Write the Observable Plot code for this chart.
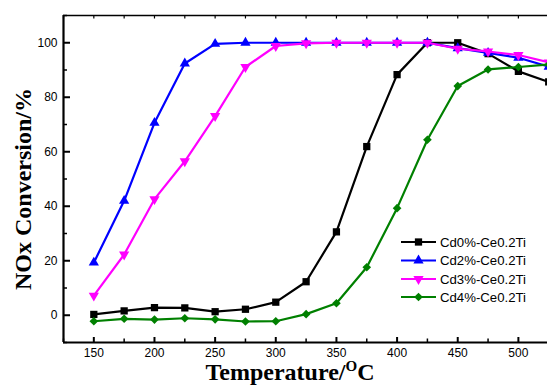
<!DOCTYPE html>
<html><head><meta charset="utf-8">
<script src="https://cdn.jsdelivr.net/npm/d3@7"></script>
<script src="https://cdn.jsdelivr.net/npm/@observablehq/plot@0.6"></script>
<style>body{margin:0;background:#fff} svg{display:block}</style>
</head><body><div id="chart"></div>
<script>
// ---- data ----
const temperatures = [150,175,200,225,250,275,300,325,350,375,400,425,450,475,500,525];
const seriesNames = ["Cd0%-Ce0.2Ti","Cd2%-Ce0.2Ti","Cd3%-Ce0.2Ti","Cd4%-Ce0.2Ti"];
const cd0 = [0.3,1.6,2.8,2.7,1.3,2.2,4.8,12.3,30.6,61.9,88.3,100,100,96,89.5,85.6];
const cd2 = [19.3,42,70.6,92.4,99.6,100,100,100,100,100,100,100,98,96.3,94.5,91.2];
const cd3 = [7.2,22.3,42.6,56.5,73.1,91.1,98.8,99.8,100,100,100,100,97.8,96.8,95.5,92.8];
const cd4 = [-2.2,-1.3,-1.6,-1.1,-1.5,-2.3,-2.2,0.4,4.4,17.6,39.3,64.4,84.1,90.2,91.1,92];
const xMajorTicks = [150,200,250,300,350,400,450,500];
const xMinorTicks = [125,175,225,275,325,375,425,475,525];
const yMajorTicks = [0,20,40,60,80,100];
const yMinorTicks = [-10,10,30,50,70,90,110];
const xDomain = [125, 524];
const yDomain = [-10, 110];
const xTitle = "Temperature/";
const xTitleSup = "O";
const xTitleEnd = "C";
const yTitle = "NOx Conversion/%";

// ---- styles ----
const colors = ["#000000","#0000ff","#ff00ff","#008000"];
const triangleDown = {
  draw(context, size) {
    const s3 = Math.sqrt(3);
    const y = -Math.sqrt(size / (s3 * 3));
    context.moveTo(0, -y * 2);
    context.lineTo(-s3 * y, y);
    context.lineTo(s3 * y, y);
    context.closePath();
  }
};
const symbols = [d3.symbolSquare, d3.symbolTriangle, triangleDown, d3.symbolDiamond2];
const radii = [4.1, 3.8, 3.8, 3.9];

const allSeries = [cd0, cd2, cd3, cd4].map((vals, i) =>
  vals.map((v, j) => ({series: seriesNames[i], t: temperatures[j], v})));

const marks = [];
allSeries.forEach((rows, i) => {
  marks.push(Plot.line(rows, {x: "t", y: "v", stroke: colors[i], strokeWidth: 2.2}));
  marks.push(Plot.dot(rows, {x: "t", y: "v", symbol: symbols[i], r: radii[i], fill: colors[i], stroke: "none"}));
});

const plot = Plot.plot({
  width: 547, height: 385,
  marginLeft: 63, marginRight: 0, marginTop: 15, marginBottom: 43,
  style: {fontFamily: "'Liberation Sans', Arial, sans-serif", fontSize: "12px", color: "#000", background: "#fff"},
  x: {domain: xDomain},
  y: {domain: yDomain},
  marks: [
    Plot.axisX({ticks: xMajorTicks, tickSize: -5, tickPadding: 11, strokeWidth: 2, label: null, tickFormat: d => String(d)}),
    Plot.axisX({ticks: xMinorTicks, tickSize: -3.5, strokeWidth: 1.5, label: null, tickFormat: () => ""}),
    Plot.axisX({anchor: "top", ticks: xMajorTicks.concat(xMinorTicks), tickSize: -2.5, strokeWidth: 1.2, label: null, tickFormat: () => ""}),
    Plot.axisY({ticks: yMajorTicks, tickSize: -7, tickPadding: 13, strokeWidth: 2, label: null, tickFormat: d => String(d)}),
    Plot.axisY({ticks: yMinorTicks, tickSize: -4, strokeWidth: 1.5, label: null, tickFormat: () => ""}),
    Plot.ruleX([xDomain[1]], {stroke: "#9a9a9a", strokeWidth: 1}),
    Plot.ruleY([yDomain[1]], {stroke: "#000", strokeWidth: 1.6}),
    Plot.ruleX([xDomain[0]], {stroke: "#000", strokeWidth: 2.2}),
    Plot.ruleY([yDomain[0]], {stroke: "#000", strokeWidth: 2.2}),
    ...marks
  ]
});

const svg = d3.select(plot);
// axis titles
const xt = svg.append("text")
  .attr("x", 290).attr("y", 380).attr("text-anchor", "middle")
  .attr("font-family", "'Liberation Serif', 'Times New Roman', serif")
  .attr("font-weight", "bold").attr("font-size", 24).attr("fill", "#000");
xt.append("tspan").text(xTitle);
xt.append("tspan").attr("dy", -9).attr("font-size", 15).text(xTitleSup);
xt.append("tspan").attr("dy", 9).text(xTitleEnd);

svg.append("text")
  .attr("transform", "translate(31,189) rotate(-90)")
  .attr("text-anchor", "middle")
  .attr("font-family", "'Liberation Serif', 'Times New Roman', serif")
  .attr("font-weight", "bold").attr("font-size", 24).attr("fill", "#000")
  .text(yTitle);

// legend
const legendRowsY = [242, 260.5, 279, 297];
const lg = svg.append("g").attr("font-family", "'Liberation Sans', Arial, sans-serif")
  .attr("font-size", 13.2).attr("text-anchor", "start");
seriesNames.forEach((name, i) => {
  const y = legendRowsY[i];
  lg.append("line").attr("x1", 401).attr("x2", 436).attr("y1", y).attr("y2", y)
    .attr("stroke", colors[i]).attr("stroke-width", 2.2);
  lg.append("path").attr("transform", `translate(418.5,${y})`)
    .attr("d", d3.symbol(symbols[i], Math.PI * radii[i] * radii[i])())
    .attr("fill", colors[i]);
  lg.append("text").attr("x", 440).attr("y", y).attr("dy", "0.35em")
    .attr("text-anchor", "start").attr("fill", "#000").text(name);
});

document.getElementById("chart").appendChild(plot);
</script>
</body></html>
